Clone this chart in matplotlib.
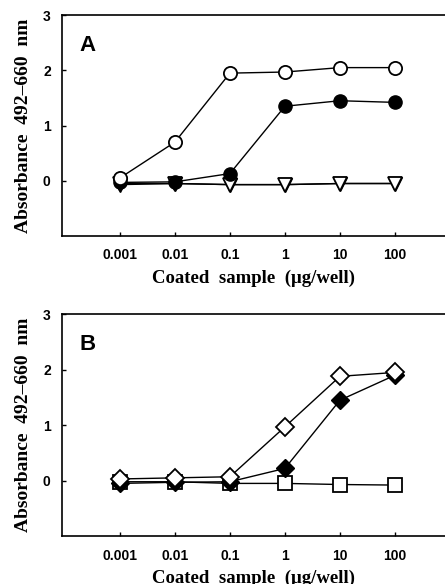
import numpy as np
import matplotlib.pyplot as plt

# coated sample amounts (ug/well)
doses = [0.001, 0.01, 0.1, 1, 10, 100]
tick_labels = ['0.001', '0.01', '0.1', '1', '10', '100']

# panel A
a_open_circle = [0.05, 0.70, 1.95, 1.97, 2.05, 2.05]
a_filled_circle = [-0.03, -0.02, 0.13, 1.35, 1.45, 1.42]
a_filled_tri = [-0.07, -0.05, -0.07, -0.07, -0.05, -0.05]
a_open_tri = [-0.05, -0.05, -0.07, -0.07, -0.05, -0.05]

# panel B
b_open_diamond = [0.03, 0.05, 0.07, 0.97, 1.88, 1.95]
b_filled_diamond = [-0.05, -0.03, -0.02, 0.22, 1.45, 1.90]
b_open_square = [-0.02, -0.02, -0.05, -0.05, -0.07, -0.08]

serif = 'Liberation Serif'
sans = 'Liberation Sans'

fig = plt.figure(figsize=(4.45, 5.84), dpi=100)
axA = fig.add_axes([0.139, 0.596, 0.861, 0.378])
axB = fig.add_axes([0.139, 0.082, 0.861, 0.380])


def style(ax, letter):
    ax.set_xscale('log')
    ax.set_xlim(10 ** -4.055, 10 ** 2.91)
    ax.set_ylim(-1, 3)
    ax.set_xticks(doses)
    ax.set_xticklabels(tick_labels)
    ax.minorticks_off()
    ax.set_yticks([0, 1, 2, 3])
    ax.tick_params(direction='in', length=3, width=1)
    ax.tick_params(axis='x', pad=9)
    ax.tick_params(axis='y', pad=8)
    for lab in ax.get_xticklabels() + ax.get_yticklabels():
        lab.set_fontfamily(sans)
        lab.set_fontweight('bold')
        lab.set_fontsize(10)
    ax.spines['right'].set_visible(False)
    for s in ['left', 'bottom', 'top']:
        ax.spines[s].set_linewidth(1.2)
    ax.set_xlabel('Coated  sample  (μg/well)', fontfamily=serif,
                  fontweight='bold', fontsize=13.5, labelpad=5)
    ax.set_ylabel('Absorbance  492–660  nm', fontfamily=serif,
                  fontweight='bold', fontsize=14, labelpad=8)
    ax.text(0.045, 0.84, letter, transform=ax.transAxes, fontfamily=sans,
            fontweight='bold', fontsize=16)


lw = 1.0
ms = 9.5
# panel A
axA.plot(doses, a_filled_tri, '-v', color='k', mfc='k', lw=lw, ms=ms, zorder=2)
axA.plot(doses, a_open_tri, '-v', color='k', mfc='white', lw=lw, ms=ms, mew=1.3, zorder=3)
axA.plot(doses, a_filled_circle, '-o', color='k', mfc='k', lw=lw, ms=ms, zorder=4)
axA.plot(doses, a_open_circle, '-o', color='k', mfc='white', lw=lw, ms=ms, mew=1.3, zorder=5)
style(axA, 'A')

# panel B
axB.plot(doses, b_open_square, '-s', color='k', mfc='white', lw=lw, ms=ms, mew=1.3, zorder=3)
axB.plot(doses, b_filled_diamond, '-D', color='k', mfc='k', lw=lw, ms=ms, zorder=4)
axB.plot(doses, b_open_diamond, '-D', color='k', mfc='white', lw=lw, ms=ms, mew=1.3, zorder=5)
style(axB, 'B')

fig.savefig('out.png', dpi=100)
